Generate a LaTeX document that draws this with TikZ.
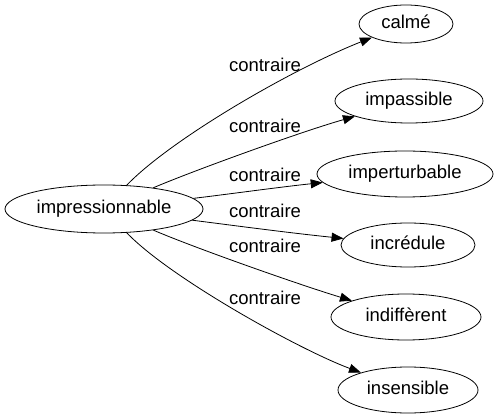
\documentclass[tikz,border=0pt]{standalone}
\usepackage{fontspec}
\setmainfont{Liberation Sans}
\usetikzlibrary{shapes.geometric,arrows.meta}
\begin{document}
\begin{tikzpicture}[x=1pt,y=-1pt,
  every node/.style={font=\fontsize{18.5}{20}\selectfont, text height=9.6pt, text depth=0pt, inner sep=0pt},
  term/.style={draw, ellipse, line width=0.8pt},
  rel/.style={draw, line width=0.8pt, -{Triangle[length=12pt,width=9pt]}},
  lab/.style={}]
\useasboundingbox (0,0) rectangle (497,419);
\node[term, minimum width=198pt, minimum height=48pt] (src) at (104,209) {impressionnable};
\node[term, minimum width=94pt, minimum height=38pt] (calme) at (406,24) {calmé};
\node[term, minimum width=148pt, minimum height=44pt] (impassible) at (409,101) {impassible};
\node[term, minimum width=176pt, minimum height=46pt] (impert) at (405,174) {imperturbable};
\node[term, minimum width=134pt, minimum height=44pt] (incred) at (408,245) {incrédule};
\node[term, minimum width=150pt, minimum height=46pt] (indiff) at (406,317) {indiffèrent};
\node[term, minimum width=140pt, minimum height=46pt] (insens) at (408,390) {insensible};
\draw[rel] (src) .. controls (170,140) and (290,70) .. (calme);
\draw[rel] (src) .. controls (190,172) and (300,132) .. (impassible);
\draw[rel] (src) .. controls (230,194) and (280,187) .. (impert);
\draw[rel] (src) .. controls (230,225) and (290,233) .. (incred);
\draw[rel] (src) .. controls (195,248) and (300,285) .. (indiff);
\draw[rel] (src) .. controls (170,278) and (300,350) .. (insens);
\node[lab] (l1) at (265,67) {contraire};
\node[lab] (l2) at (265,128) {contraire};
\node[lab] (l3) at (265,177) {contraire};
\node[lab] (l4) at (265,213) {contraire};
\node[lab] (l5) at (265,248) {contraire};
\node[lab] (l6) at (265,300) {contraire};
\end{tikzpicture}
\end{document}
